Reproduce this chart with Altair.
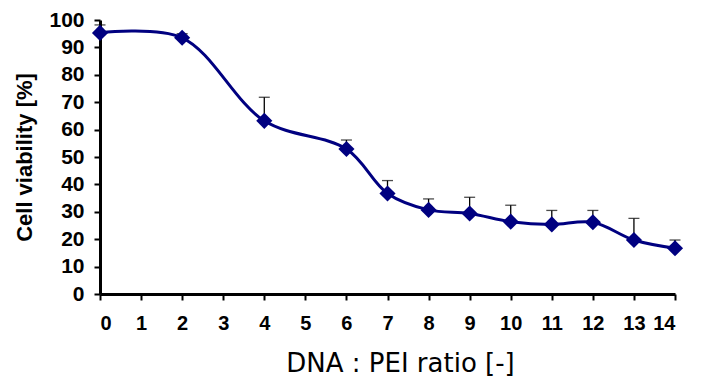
import altair as alt
import pandas as pd

ratio = [0, 2, 4, 6, 7, 8, 9, 10, 11, 12, 13, 14]
viability = [95.3, 93.5, 63.2, 52.9, 36.7, 30.7, 29.4, 26.4, 25.4, 26.2, 19.7, 16.7]
err_top = [98.2, 95.0, 71.8, 56.2, 41.4, 34.7, 35.3, 32.4, 30.5, 30.5, 27.6, 19.7]

df = pd.DataFrame({"ratio": ratio, "viability": viability, "top": err_top})

xscale = alt.Scale(domain=[0, 14], nice=False, zero=False)
yscale = alt.Scale(domain=[0, 100], nice=False)

yaxis = alt.Axis(title="Cell viability [%]", values=list(range(0, 101, 10)))

x = alt.X("ratio:Q", scale=xscale,
          axis=alt.Axis(title="DNA : PEI ratio [-]", values=list(range(15)), format="d"))
y = alt.Y("viability:Q", scale=yscale, axis=yaxis)

base = alt.Chart(df)

err = base.mark_rule(color="black", strokeWidth=1.3).encode(x=x, y=y, y2="top:Q")
cap = base.mark_tick(color="black", thickness=1.3, size=11, orient="horizontal").encode(
    x=x, y=alt.Y("top:Q", scale=yscale, axis=yaxis))
line = base.mark_line(color="#000080", strokeWidth=3, interpolate="catmull-rom").encode(x=x, y=y)
pts = base.mark_point(shape="diamond", filled=True, color="#000080", size=260, opacity=1).encode(x=x, y=y)

chart = alt.layer(err, cap, line, pts).properties(
    width=575, height=274,
    autosize=alt.AutoSizeParams(type="none"),
    padding={"left": 100, "top": 20, "right": 29, "bottom": 88},
).configure_view(stroke=None).configure_axis(
    grid=False, domainColor="black", domainWidth=3, tickColor="black",
    tickWidth=2, tickSize=6, labelFont="Liberation Sans", labelFontWeight="bold",
    labelColor="black", labelOverlap=False, titleColor="black",
).configure_axisX(
    labelFontSize=20, labelPadding=13,
    titleFont="DejaVu Sans", titleFontWeight="normal", titleFontSize=26, titlePadding=17,
    titleX=300,
).configure_axisY(
    labelFontSize=21, labelPadding=10,
    titleFont="Liberation Sans", titleFontWeight="bold", titleFontSize=22, titlePadding=12,
)

chart.save("out.html", embed_options={"renderer": "svg", "actions": False})
